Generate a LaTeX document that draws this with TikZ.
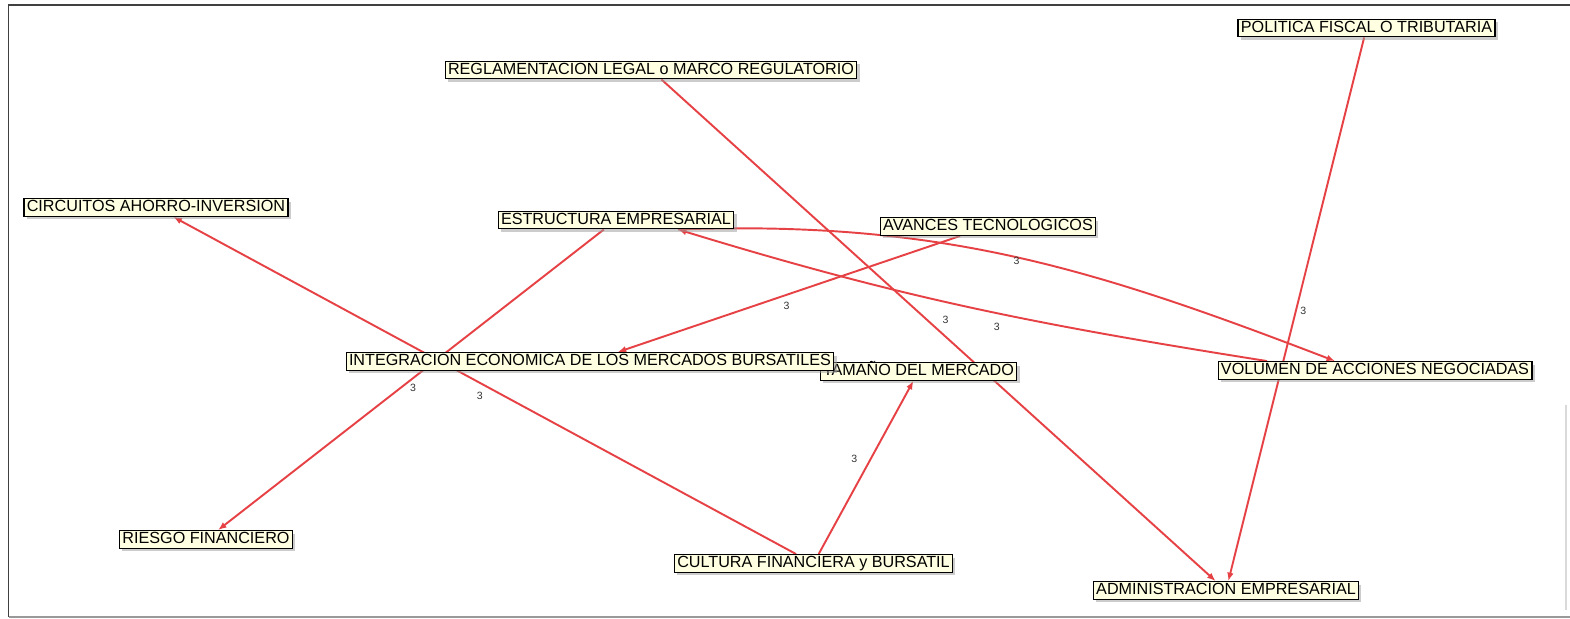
\documentclass[tikz,border=0pt]{standalone}
\usepackage{fontspec}
\setmainfont{Liberation Sans}
\usetikzlibrary{arrows.meta,calc,shadows,backgrounds}
\definecolor{linkred}{RGB}{230,66,70}
\definecolor{notefill}{RGB}{255,255,226}

\begin{document}
\begin{tikzpicture}[
x=0.02cm,
y=-0.02cm,
every node/.style={font=\fontsize{9.2}{11}\selectfont},
factor/.style={rectangle,draw=black,line width=0.75pt,fill=notefill,inner xsep=1.6pt,inner ysep=0.6pt,text height=6.9pt,text depth=1.9pt,drop shadow={shadow xshift=1.6pt,shadow yshift=-1.6pt,fill=black!40}},
link/.style={-{Latex[length=4.8pt,width=3.8pt]},draw=linkred,line width=1.1pt},
lbl/.style={font=\fontsize{6}{7}\selectfont,inner sep=0.6pt,text=black!80}
]
\useasboundingbox (0,0) rectangle (1570,619);

% chart frame
\draw[black!75,line width=1pt] (1570,5) -- (8.5,5) -- (8.5,617);
\draw[black!40,line width=0.8pt] (8.5,617) -- (1570,617);
\draw[black!15,line width=0.6pt] (1566,405) -- (1566,610);

% factors (tam first, integ overlaps it)
\node[factor] (tam) at (918.5,371.5) {TAMAÑO DEL MERCADO};
\node[factor] (integ) at (590,361.5) {INTEGRACION ECONOMICA DE LOS MERCADOS BURSATILES};
\node[factor] (circ) at (156,207.5) {CIRCUITOS AHORRO-INVERSION};
\node[factor] (reg) at (651,70) {REGLAMENTACION LEGAL o MARCO REGULATORIO};
\node[factor] (pol) at (1366.5,28) {POLITICA FISCAL O TRIBUTARIA};
\node[factor] (estr) at (616,220) {ESTRUCTURA EMPRESARIAL};
\node[factor] (avan) at (988,226.5) {AVANCES TECNOLOGICOS};
\node[factor] (vol) at (1375,370.5) {VOLUMEN DE ACCIONES NEGOCIADAS};
\node[factor] (ries) at (206,539.5) {RIESGO FINANCIERO};
\node[factor] (cult) at (813.5,563.5) {CULTURA FINANCIERA y BURSATIL};
\node[factor] (adm) at (1226,590.5) {ADMINISTRACION EMPRESARIAL};

% influences, drawn behind the boxes
\begin{scope}[on background layer]
\draw[link] (reg) -- node[lbl,xshift=4pt,yshift=5.7pt]{3} (adm);
\draw[link] (pol) -- node[lbl,xshift=4pt,yshift=-1.1pt]{3} (adm);
\draw[link] (cult) -- node[lbl,xshift=-6.6pt,yshift=4.8pt]{3} (tam);
\draw[link] (cult) -- node[lbl,xshift=-2.8pt,yshift=-6pt]{3} (circ);
\draw[link] (avan) -- node[lbl,xshift=-1.4pt,yshift=-6.5pt]{3} (integ);
\draw[link] (estr) -- node[lbl,xshift=1.2pt,yshift=-4.8pt]{3} (ries);
\draw[link] ($(estr.south)+(62,0)$) to[out=2,in=159] node[lbl,pos=0.5,xshift=2pt,yshift=-2.5pt]{3} ($(vol.north)+(-40,0)$);
\draw[link] ($(vol.north)+(-108,0)$) to[out=171,in=-17] node[lbl,pos=0.45,yshift=-8pt]{3} ($(estr.south)+(62,0)$);
\end{scope}
\end{tikzpicture}
\end{document}
